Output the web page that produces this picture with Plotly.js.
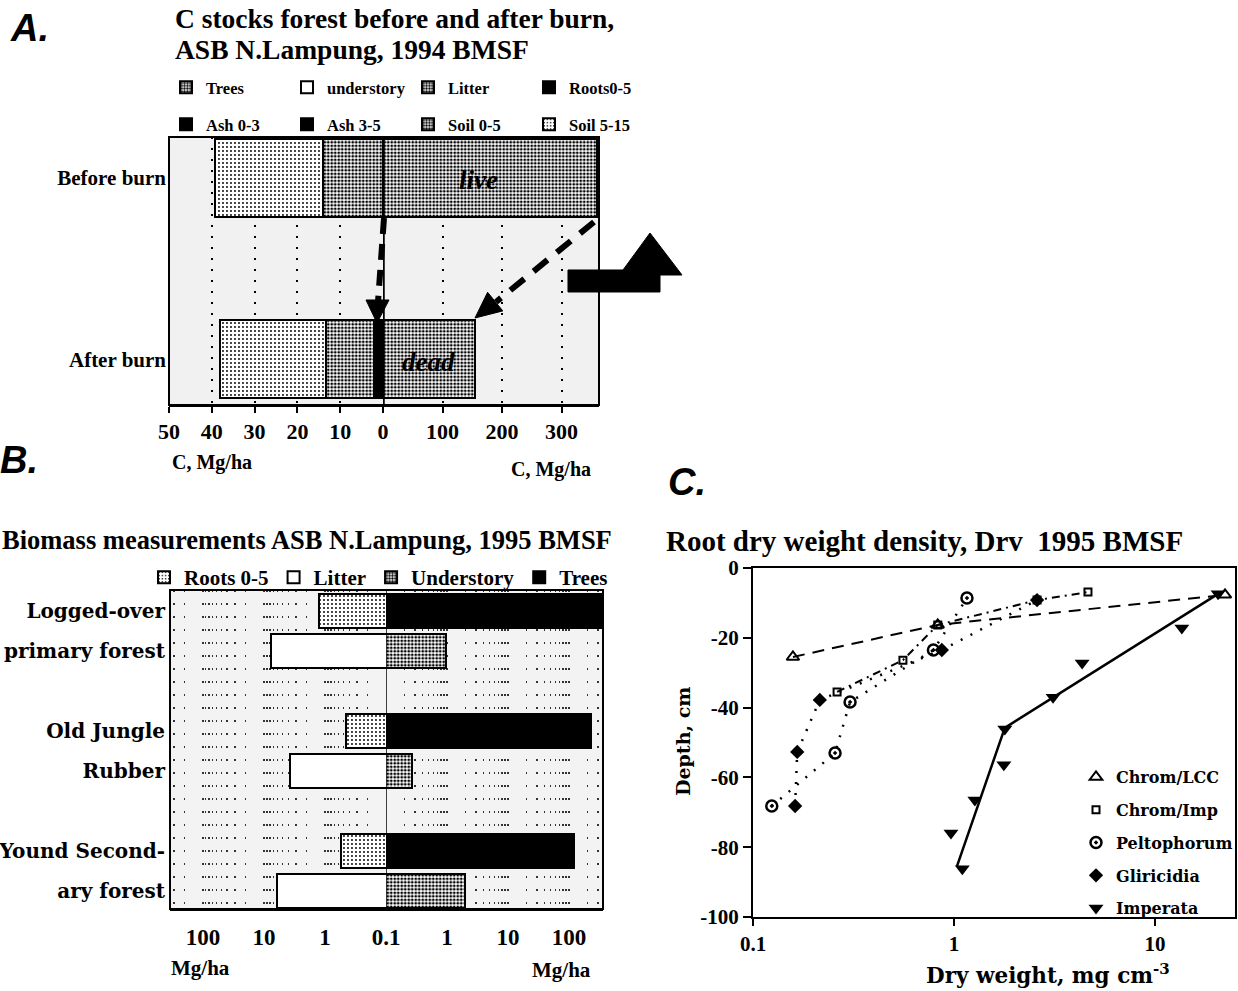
<!DOCTYPE html>
<html><head><meta charset="utf-8">
<script src="https://cdn.plot.ly/plotly-3.0.1.min.js"></script>
<style>html,body{margin:0;padding:0;background:#fff}#chart{width:1238px;height:991px}</style>
</head><body><div id="chart"></div>
<script>
// ================= DATA =================
// Panel A: C stocks (Mg/ha) before and after burn
const aRows = [0, 1];
const aRowLabels = ['Before burn', 'After burn'];
// right half of the split axis (0-360 Mg/ha)
const aTrees = [360, 155];
const aUnderstory = [null, null];
const aLitter = [null, null];
const aRoots = [null, null];
// left half of the split axis (0-50 Mg/ha)
const aAsh03 = [null, 1.0];
const aAsh35 = [null, 1.2];
const aSoil05 = [14.0, 11.1];
const aSoil515 = [25.3, 24.8];
const aLeftTicks = [50, 40, 30, 20, 10, 0];
const aRightTicks = [100, 200, 300];

// Panel B: biomass (Mg/ha), log split axis
const bRowPos = [0, 1, 3, 4, 6, 7];
const bRowLabels = ['Logged-over', 'primary forest', 'Old Jungle', 'Rubber', 'Yound Second-', 'ary forest'];
const bTopRows = [0, 3, 6];
const bBottomRows = [1, 4, 7];
const bRoots = [1.26, 0.45, 0.55];
const bTrees = [420, 229, 121];
const bLitter = [7.7, 3.7, 6.1];
const bUnderstory = [0.96, 0.27, 1.97];
const bTicksLeft = [100, 10, 1, 0.1];
const bTickTextLeft = ['100', '10', '1', '0.1'];
const bTicksRight = [1, 10, 100];
const bTickTextRight = ['1', '10', '100'];

// Panel C: root dry weight density (mg cm-3) vs depth (cm)
const cLCCx = [0.158, 0.83, 22.3];
const cLCCy = [-25.5, -16.3, -7.7];
const cImpX = [0.262, 0.557, 0.83, 2.59, 4.64];
const cImpY = [-35.5, -26.4, -16.3, -9.2, -6.9];
const cPeltX = [0.124, 0.256, 0.304, 0.79, 1.16];
const cPeltY = [-68.2, -53, -38.4, -23.5, -8.6];
const cGlirX = [0.162, 0.166, 0.215, 0.87, 2.59];
const cGlirY = [-68.2, -52.7, -37.8, -23.5, -9.2];
const cImperX = [20.6, 13.6, 4.34, 3.11, 1.79, 1.77, 1.27, 0.966, 1.10];
const cImperY = [-7.4, -17.2, -27.2, -37, -46.1, -56.4, -66.5, -75.9, -86.2];
const cImperFitX = [20.6, 3.11, 1.79, 1.035];
const cImperFitY = [-7.4, -37, -45.8, -85.4];
const cTicksX = [0.1, 1, 10];
const cTickTextX = ['0.1', '1', '10'];
const cTicksY = [0, -20, -40, -60, -80, -100];
const cTickTextY = ['0', '-20', '-40', '-60', '-80', '-100'];

// ================= STYLE / LAYOUT =================
const W = 1238, H = 991;
const X = p => p / W;            // pixel -> paper x
const Y = p => 1 - p / H;        // pixel -> paper y
const SERIF = 'Liberation Serif, Times New Roman, serif';
const WSERIF = 'DejaVu Serif, serif';
const SANS = 'Liberation Sans, Arial, sans-serif';
const bf = (size, fam) => ({family: fam || SERIF, size: size, color: '#000', weight: 700});

const DENSE = {shape: '.', size: 3.5, solidity: 0.5, fgcolor: '#000', bgcolor: '#fff'};
const LIGHT = {shape: '.', size: 4, solidity: 0.18, fgcolor: '#000', bgcolor: '#fff'};
const OUT = {color: '#000', width: 2};

// pixel frames of the panels
const A = {x0: 169, xm: 383, x1: 599, y0: 137, y1: 405};
const B = {x0: 170, xm: 386, x1: 603, y0: 590, y1: 909};
const C = {x0: 753, x1: 1235, y0: 568, y1: 917};

function hbar(name, xa, ya, ys, xs, fill, legend, width) {
  const m = {line: OUT};
  if (fill === 'black') m.color = '#000';
  else if (fill === 'white') m.color = '#fff';
  else { m.color = '#fff'; m.pattern = fill; }
  return {type: 'bar', orientation: 'h', name: name, x: xs, y: ys, xaxis: xa, yaxis: ya,
          width: width, marker: m, legend: legend, hoverinfo: 'x+name'};
}
function cLine(name, xs, ys, dash, w) {
  return {type: 'scatter', mode: 'lines', name: name, x: xs, y: ys, xaxis: 'x5', yaxis: 'y5',
          showlegend: false, line: {color: '#000', width: w, dash: dash}};
}
function cPts(name, xs, ys, marker, grp) {
  return {type: 'scatter', mode: 'markers', name: name, x: xs, y: ys, xaxis: 'x5', yaxis: 'y5',
          legend: 'legend4', legendgroup: grp, marker: Object.assign({color: '#000'}, marker)};
}

const traces = [
  // Panel A, legend row 1
  hbar('Trees', 'x2', 'y', aRows, aTrees, DENSE, 'legend', 0.43),
  hbar('understory', 'x2', 'y', aRows, aUnderstory, 'white', 'legend', 0.43),
  hbar('Litter', 'x2', 'y', aRows, aLitter, DENSE, 'legend', 0.43),
  hbar('Roots0-5', 'x2', 'y', aRows, aRoots, 'black', 'legend', 0.43),
  // Panel A, legend row 2 (stacked outward on the left half)
  hbar('Ash 0-3', 'x', 'y', aRows, aAsh03, 'black', 'legend2', 0.43),
  hbar('Ash 3-5', 'x', 'y', aRows, aAsh35, 'black', 'legend2', 0.43),
  hbar('Soil 0-5', 'x', 'y', aRows, aSoil05, DENSE, 'legend2', 0.43),
  hbar('Soil 5-15', 'x', 'y', aRows, aSoil515, LIGHT, 'legend2', 0.43),
  // Panel B
  hbar('Roots 0-5', 'x3', 'y3', bTopRows, bRoots, LIGHT, 'legend3', 0.85),
  hbar('Litter', 'x3', 'y3', bBottomRows, bLitter, 'white', 'legend3', 0.85),
  hbar('Understory', 'x4', 'y3', bBottomRows, bUnderstory, DENSE, 'legend3', 0.85),
  hbar('Trees', 'x4', 'y3', bTopRows, bTrees, 'black', 'legend3', 0.85),
  // Panel C: connecting lines
  cLine('Chrom/LCC', cLCCx, cLCCy, '12px,8px', 2),
  cLine('Chrom/Imp', cImpX, cImpY, '8px,5px,2px,5px', 2),
  cLine('Peltophorum', cPeltX, cPeltY, '2px,9px', 2.5),
  cLine('Gliricidia', cGlirX, cGlirY, '2px,9px', 2.5),
  cLine('Imperata fit', cImperFitX, cImperFitY, 'solid', 2.5),
  // Panel C: points
  cPts('Chrom/LCC', cLCCx, cLCCy, {symbol: 'triangle-up-open', size: 11, line: {width: 2, color: '#000'}}, 'c1'),
  cPts('Chrom/Imp', cImpX, cImpY, {symbol: 'square-open', size: 7, line: {width: 2, color: '#000'}}, 'c2'),
  cPts('Peltophorum', cPeltX, cPeltY, {symbol: 'circle-open-dot', size: 11, line: {width: 2.5, color: '#000'}}, 'c3'),
  cPts('Gliricidia', cGlirX, cGlirY, {symbol: 'diamond', size: 11}, 'c4'),
  cPts('Imperata', cImperX, cImperY, {symbol: 'triangle-down', size: 13}, 'c5')
];

const aX = {
  anchor: 'y', ticks: 'outside', ticklen: 6, tickwidth: 2, tickcolor: '#000',
  showline: true, linewidth: 2, linecolor: '#000', zeroline: false,
  showgrid: true, gridcolor: '#000', gridwidth: 2, griddash: '2px,9px',
  tickfont: bf(22), fixedrange: true
};
const bX = {
  type: 'log', anchor: 'y3', ticks: '', showline: true, linewidth: 2, linecolor: '#000', zeroline: false,
  showgrid: true, gridcolor: '#333', gridwidth: 1.5, griddash: '2px,11px',
  minor: {dtick: 'D1', showgrid: true, gridcolor: '#333', gridwidth: 1.5, griddash: '2px,11px'},
  tickfont: bf(23), ticklabelstandoff: 6, fixedrange: true
};
const legBase = {xanchor: 'left', yanchor: 'top', bgcolor: 'rgba(0,0,0,0)', itemclick: false, itemdoubleclick: false};

const layout = {
  width: W, height: H, margin: {l: 0, r: 0, t: 0, b: 0},
  paper_bgcolor: '#fff', plot_bgcolor: 'rgba(0,0,0,0)',
  barmode: 'stack', bargap: 0,
  font: {family: SERIF, color: '#000'},
  xaxis: Object.assign({}, aX, {domain: [X(A.x0), X(A.xm)], range: [50, 0], tickvals: aLeftTicks}),
  xaxis2: Object.assign({}, aX, {domain: [X(A.xm), X(A.x1)], range: [0, 363], tickvals: aRightTicks}),
  yaxis: {domain: [Y(A.y1), Y(A.y0)], range: [1.251, -0.226], anchor: 'x', tickvals: aRows, ticktext: aRowLabels,
          ticks: '', showline: false, showgrid: false, zeroline: false, tickfont: bf(21), ticklabelstandoff: 2, fixedrange: true},
  xaxis3: Object.assign({}, bX, {domain: [X(B.x0), X(B.xm)], range: [2.54, -1], tickvals: bTicksLeft, ticktext: bTickTextLeft}),
  xaxis4: Object.assign({}, bX, {domain: [X(B.xm), X(B.x1)], range: [-1, 2.557], tickvals: bTicksRight, ticktext: bTickTextRight}),
  yaxis3: {domain: [Y(B.y1), Y(B.y0)], range: [7.45, -0.53], anchor: 'x3', tickvals: bRowPos, ticktext: bRowLabels,
           ticks: '', showline: false, showgrid: false, zeroline: false, tickfont: bf(20, WSERIF), ticklabelstandoff: 4, fixedrange: true},
  xaxis5: {type: 'log', domain: [X(C.x0), X(C.x1)], range: [-1, 1.398], anchor: 'y5', tickvals: cTicksX, ticktext: cTickTextX,
           ticks: 'outside', ticklen: 7, tickwidth: 2, tickcolor: '#000', showline: true, linewidth: 2, linecolor: '#000',
           mirror: true, showgrid: false, zeroline: false, tickfont: bf(21), fixedrange: true},
  yaxis5: {domain: [Y(C.y1), Y(C.y0)], range: [-100, 0], anchor: 'x5', tickvals: cTicksY, ticktext: cTickTextY,
           ticks: 'outside', ticklen: 8, tickwidth: 2, tickcolor: '#000', showline: true, linewidth: 2, linecolor: '#000',
           mirror: true, showgrid: false, zeroline: false, tickfont: bf(21), fixedrange: true},
  legend: Object.assign({}, legBase, {x: X(166), y: Y(70), orientation: 'h', traceorder: 'normal',
           entrywidth: 76, entrywidthmode: 'pixels', font: bf(16.5)}),
  legend2: Object.assign({}, legBase, {x: X(166), y: Y(107), orientation: 'h', traceorder: 'normal',
           entrywidth: 76, entrywidthmode: 'pixels', font: bf(16.5)}),
  legend3: Object.assign({}, legBase, {x: X(144), y: Y(557), orientation: 'h', traceorder: 'normal', font: bf(21)}),
  legend4: Object.assign({}, legBase, {x: X(1076), y: Y(760), orientation: 'v', traceorder: 'grouped',
           tracegroupgap: 9, font: bf(16, WSERIF)}),
  shapes: [],
  annotations: []
};

// ---------- frames and decorations ----------
const S = layout.shapes;
function rectPx(x0, y0, x1, y1, opts) {
  return Object.assign({type: 'rect', xref: 'paper', yref: 'paper', x0: X(x0), x1: X(x1), y0: Y(y1), y1: Y(y0)}, opts);
}
function linePx(x0, y0, x1, y1, w, dash) {
  return {type: 'line', xref: 'paper', yref: 'paper', x0: X(x0), y0: Y(y0), x1: X(x1), y1: Y(y1),
          line: {color: '#000', width: w, dash: dash || 'solid'}, layer: 'above'};
}
function pathPx(pts) {
  return {type: 'path', xref: 'paper', yref: 'paper', layer: 'above', fillcolor: '#000', line: {color: '#000', width: 1},
          path: 'M' + pts.map(p => X(p[0]).toFixed(5) + ',' + Y(p[1]).toFixed(5)).join('L') + 'Z'};
}
// panel backgrounds
S.push(rectPx(A.x0, A.y0, A.x1, A.y1, {layer: 'below', fillcolor: '#f1f1f1', line: {width: 0}}));
S.push(rectPx(B.x0, B.y0, B.x1, B.y1, {layer: 'below', fillcolor: '#f3f3f3', line: {width: 0}}));
// panel frames
S.push(rectPx(A.x0, A.y0, A.x1, A.y1, {layer: 'above', line: {color: '#000', width: 2}}));
S.push(rectPx(B.x0, B.y0, B.x1, B.y1, {layer: 'above', line: {color: '#000', width: 2}}));
// zero / centre lines
S.push({type: 'line', xref: 'x2', yref: 'y domain', x0: 0, x1: 0, y0: 0, y1: 1, line: {color: '#000', width: 3.5}, layer: 'above'});
S.push({type: 'line', xref: 'x4', yref: 'y3 domain', x0: 0.1, x1: 0.1, y0: 0, y1: 1, line: {color: '#000', width: 1.5}, layer: 'above'});
// burn arrows in panel A
S.push(linePx(384, 218, 378, 302, 6, '16px,10px'));
S.push(pathPx([[377, 323], [366, 300], [389, 300]]));
S.push(linePx(594, 222, 496, 302, 6, '18px,12px'));
S.push(pathPx([[475, 318], [502.8, 310.9], [487.6, 292.3]]));
// big arrow at the right of panel A
S.push(pathPx([[568, 270], [623, 270], [650, 233], [682, 275], [660, 275], [660, 292], [568, 292]]));

// ---------- texts ----------
const N = layout.annotations;
function txt(text, x, y, font, xanchor, extra) {
  return Object.assign({text: text, x: X(x), y: Y(y), xref: 'paper', yref: 'paper', showarrow: false,
                        xanchor: xanchor || 'center', yanchor: 'middle', font: font}, extra || {});
}
const panelFont = {family: SANS, size: 38, color: '#000', weight: 700, style: 'italic'};
N.push(txt('A.', 8, 28, panelFont, 'left'));
N.push(txt('B.', -2, 460, panelFont, 'left'));
N.push(txt('C.', 666, 482, panelFont, 'left'));
N.push(txt('C stocks forest before and after burn,', 173, 18, bf(27.5), 'left'));
N.push(txt('ASB N.Lampung, 1994 BMSF', 173, 49, bf(27.5), 'left'));
N.push(txt('live', 478, 180, {family: SERIF, size: 27, color: '#000', weight: 700, style: 'italic'}));
N.push(txt('dead', 428, 362, {family: SERIF, size: 27, color: '#000', weight: 700, style: 'italic'}));
N.push(txt('C, Mg/ha', 212, 462, bf(20)));
N.push(txt('C, Mg/ha', 551, 470, bf(20)));
N.push(txt('Biomass measurements ASB N.Lampung, 1995 BMSF', 0, 540, bf(26.5), 'left'));
N.push(txt('Mg/ha', 200, 968, bf(21)));
N.push(txt('Mg/ha', 561, 970, bf(21)));
N.push(txt('Root dry weight density, Drv&nbsp;&nbsp;1995 BMSF', 664, 541, bf(29), 'left'));
N.push(txt('Depth, cm', 683, 742, bf(19, WSERIF), 'center', {textangle: -90}));
N.push(txt('Dry weight, mg cm<sup>-3</sup>', 1048, 974, bf(21.5, WSERIF)));

Plotly.newPlot('chart', traces, layout, {displayModeBar: false, staticPlot: true});
</script>
</body></html>
